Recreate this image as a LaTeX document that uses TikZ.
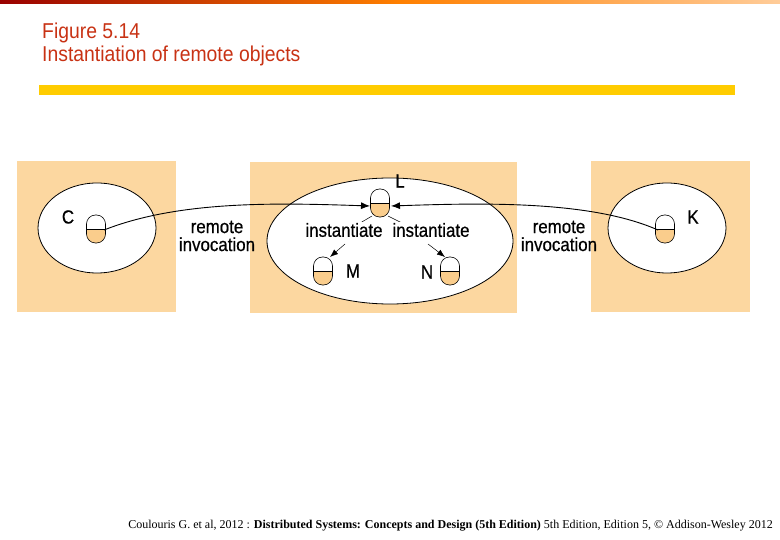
\documentclass[tikz,border=0pt]{standalone}
\usepackage{fontspec}
\setmainfont{Liberation Sans}
\newfontfamily\serifft{Liberation Serif}
\newfontfamily\narrowft[FakeStretch=0.89,FakeBold=0.6]{Liberation Sans}
\newfontfamily\titleft[FakeStretch=0.9]{Liberation Sans}
\usetikzlibrary{arrows.meta}
\definecolor{panel}{RGB}{252,215,160}
\definecolor{titlered}{RGB}{200,50,20}
\definecolor{barYellow}{RGB}{255,204,0}
\definecolor{capfill}{RGB}{250,205,140}
\tikzset{
  panelbox/.style={fill=panel,draw=none},
  oval/.style={draw=black,fill=white,line width=0.8pt},
  lbl/.style={font=\narrowft\fontsize{19}{20}\selectfont,inner sep=1pt,align=center},
  conn/.style={line width=0.9pt,-{Latex[length=9pt,width=7pt]}},
  thin/.style={line width=0.5pt},
  capsule/.pic={
    \begin{scope}
      \clip[rounded corners=9pt] (-9.5,-14) rectangle (9.5,14);
      \fill[white] (-9.5,-14) rectangle (9.5,14);
      \fill[capfill] (-9.5,0) rectangle (9.5,14);
    \end{scope}
    \draw[line width=0.6pt,rounded corners=9pt] (-9.5,-14) rectangle (9.5,14);
    \draw[line width=0.5pt] (-9.5,0) -- (9.5,0);
  }
}
\begin{document}
\begin{tikzpicture}[x=1pt,y=-1pt]
\useasboundingbox (0,0) rectangle (780,540);
\shade[left color=red!60!black,right color=orange] (0,0) rectangle (400,4);
\shade[left color=orange,right color=orange!40] (400,0) rectangle (780,4);
\node[anchor=west,text=titlered,font=\titleft\fontsize{21.5}{23}\selectfont,inner sep=0] (t1) at (42,33) {Figure 5.14};
\node[anchor=west,text=titlered,font=\titleft\fontsize{21.5}{23}\selectfont,inner sep=0] (t2) at (42,56) {Instantiation of remote objects};
\fill[barYellow] (39,85) rectangle (735,95);
\fill[panelbox] (17,161) rectangle (176,312);
\fill[panelbox] (250,162) rectangle (517,313);
\fill[panelbox] (591,161) rectangle (750,312);
\draw[oval] (97,228) ellipse [x radius=59,y radius=45];
\draw[oval] (390,241) ellipse [x radius=123,y radius=63];
\draw[oval] (667,228) ellipse [x radius=59,y radius=45];
\pic at (96,229) {capsule};
\pic at (380,203) {capsule};
\pic at (323,271) {capsule};
\pic at (450,271) {capsule};
\pic at (665,229) {capsule};
\coordinate (c) at (104,230);
\coordinate (k) at (658,230);
\coordinate (lL) at (370,206);
\coordinate (lR) at (391,206);
\draw[conn] (c) .. controls (180,200) and (280,203) .. (lL);
\draw[conn] (k) .. controls (590,200) and (480,203) .. (lR);
\draw[thin] (372,216) -- (345,232);
\draw[thin] (388,216) -- (420,232);
\node[lbl,fill=white] (i1) at (344,230) {instantiate};
\node[lbl,fill=white] (i2) at (431,230) {instantiate};
\draw[thin,-{Latex[length=8pt,width=6pt]}] (345,244) -- (330,257);
\draw[thin,-{Latex[length=8pt,width=6pt]}] (428,244) -- (445,257);
\node[lbl] (r1) at (217,236) {remote\\[-2pt]invocation};
\node[lbl] (r2) at (559,236) {remote\\[-2pt]invocation};
\node[lbl] (C) at (68,217) {C};
\node[lbl] (L) at (400,181) {L};
\node[lbl] (M) at (353,271) {M};
\node[lbl] (N) at (427,272) {N};
\node[lbl] (K) at (693,217) {K};
\node[font=\serifft\fontsize{12}{14}\selectfont,anchor=east,inner sep=0] (f) at (773,526) {Coulouris G. et al, 2012 : \textbf{Distributed Systems: Concepts and Design (5th Edition)} 5th Edition, Edition 5, © Addison-Wesley 2012};
\end{tikzpicture}
\end{document}
